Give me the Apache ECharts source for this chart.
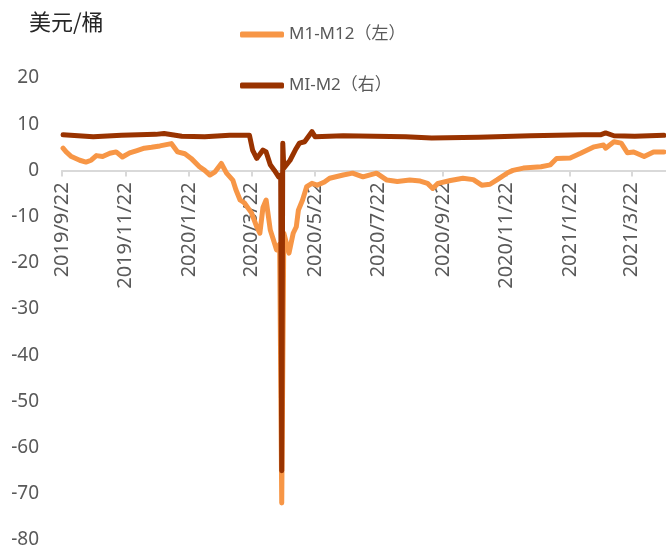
<!DOCTYPE html>
<html>
<head>
<meta charset="utf-8">
<script src="https://cdn.jsdelivr.net/npm/echarts@6/dist/echarts.min.js"></script>
<style>html,body{margin:0;padding:0;background:#fff}#c{width:666px;height:553px}</style>
</head>
<body>
<div id="c"></div>
<script>
const tickDates = ['2019-09-22','2019-11-22','2020-01-22','2020-03-22','2020-05-22','2020-07-22','2020-09-22','2020-11-22','2021-01-22','2021-03-22'];

const m112Dates = ['2019-09-23','2019-09-26','2019-10-01','2019-10-09','2019-10-15','2019-10-20','2019-10-25','2019-10-31','2019-11-07','2019-11-13','2019-11-19','2019-11-26','2019-12-03','2019-12-10','2019-12-17','2019-12-25','2020-01-05','2020-01-11','2020-01-18','2020-01-24','2020-02-01','2020-02-06','2020-02-11','2020-02-16','2020-02-22','2020-02-27','2020-03-04','2020-03-07','2020-03-11','2020-03-15','2020-03-22','2020-03-27','2020-03-30','2020-04-02','2020-04-05','2020-04-09','2020-04-12','2020-04-15','2020-04-18','2020-04-20','2020-04-22','2020-04-27','2020-05-01','2020-05-04','2020-05-06','2020-05-10','2020-05-14','2020-05-19','2020-05-24','2020-05-31','2020-06-05','2020-06-18','2020-06-27','2020-07-07','2020-07-20','2020-07-30','2020-08-09','2020-08-21','2020-08-31','2020-09-07','2020-09-12','2020-09-17','2020-09-29','2020-10-11','2020-10-21','2020-10-29','2020-11-06','2020-11-13','2020-11-23','2020-11-28','2020-12-08','2020-12-25','2021-01-03','2021-01-09','2021-01-22','2021-02-01','2021-02-14','2021-02-23','2021-02-25','2021-03-05','2021-03-12','2021-03-18','2021-03-24','2021-04-03','2021-04-12','2021-04-22'];
const m112Values = [4.8,4.0,3.0,2.2,1.8,2.2,3.2,3.0,3.7,4.0,2.9,3.8,4.3,4.8,5.0,5.3,5.8,4.0,3.6,2.6,0.8,0,-1.0,-0.3,1.5,-0.6,-2.1,-4.2,-6.4,-7.0,-9.2,-12.2,-13.6,-8.0,-6.4,-12.9,-15.0,-17.2,-16.0,-72.0,-13.6,-17.9,-13.6,-12.2,-8.6,-6.4,-3.5,-2.8,-3.2,-2.5,-1.7,-1.0,-0.6,-1.4,-0.6,-2.1,-2.4,-2.1,-2.3,-2.8,-3.9,-2.8,-2.2,-1.7,-2.0,-3.2,-3.0,-2.0,-0.5,0,0.5,0.8,1.2,2.6,2.7,3.7,5.1,5.5,4.8,6.2,5.9,3.8,4.0,3.0,4.0,4.0];

const m12Dates = ['2019-09-23','2019-10-22','2019-11-18','2019-12-21','2019-12-29','2020-01-15','2020-02-06','2020-03-01','2020-03-20','2020-03-23','2020-03-27','2020-04-02','2020-04-05','2020-04-09','2020-04-13','2020-04-17','2020-04-19','2020-04-20','2020-04-21','2020-04-22','2020-04-28','2020-05-03','2020-05-07','2020-05-12','2020-05-19','2020-05-22','2020-06-18','2020-08-17','2020-09-11','2020-10-26','2020-12-15','2021-02-03','2021-02-20','2021-02-25','2021-03-05','2021-03-25','2021-04-22'];
const m12Values = [7.7,7.3,7.6,7.8,8.0,7.4,7.3,7.6,7.6,4.4,2.6,4.4,4.0,1.2,0,-1.4,-1.0,-65.0,5.9,0.5,2.2,4.4,5.9,6.2,8.4,7.3,7.5,7.3,7.0,7.2,7.5,7.7,7.7,8.1,7.5,7.4,7.6];

const seriesNames = ['M1-M12（左）', 'MI-M2（右）'];
const yMin = -80, yMax = 20, yStep = 10;

function ts(s) { const p = s.split('-').map(Number); return new Date(p[0], p[1] - 1, p[2]).getTime(); }
const zip = (d, v) => d.map((x, i) => [ts(x), v[i]]);
const tickTs = tickDates.map(ts);
const xMin = ts('2019-09-22'), xMax = ts('2021-04-24');

// layout: plot top/bottom in px, zero line derived from the value scale
const gTop = 78, gBottom = 13, H = 553;
const plotH = H - gTop - gBottom;
const zeroY = gTop + plotH * (yMax - 0) / (yMax - yMin);

const chart = echarts.init(document.getElementById('c'));
const font = "'Noto Sans', 'Noto Sans CJK SC', sans-serif";
chart.setOption({
  animation: false,
  title: { text: '美元/桶', left: 24, top: 6, textStyle: { fontFamily: "'Noto Sans CJK SC', sans-serif", fontSize: 22, fontWeight: 'normal', color: '#262626' } },
  legend: {
    orient: 'vertical', left: 240, top: 26, itemGap: 34, padding: 0,
    icon: 'roundRect', itemWidth: 44, itemHeight: 6,
    textStyle: { fontFamily: font, fontSize: 17, color: '#595959' },
    data: seriesNames
  },
  grid: [
    { left: 62, right: 0, top: gTop, bottom: gBottom, containLabel: false, outerBoundsMode: 'none' },
    { left: 62, right: 0, top: gTop, height: zeroY - gTop, containLabel: false, outerBoundsMode: 'none' }
  ],
  xAxis: [
    { gridIndex: 0, type: 'value', min: xMin, max: xMax, show: false, splitLine: { show: false } },
    { gridIndex: 1, type: 'value', min: xMin, max: xMax, position: 'bottom',
      axisLine: { show: true, onZero: false, lineStyle: { color: '#d9d9d9', width: 2 } },
      axisTick: { show: true, customValues: tickTs, length: 6, lineStyle: { color: '#d9d9d9', width: 2 } },
      splitLine: { show: false },
      axisLabel: {
        customValues: tickTs, rotate: 90, margin: 12, showMinLabel: true, showMaxLabel: true,
        fontFamily: font, fontSize: 20, color: '#595959',
        formatter: v => { const d = new Date(v); return d.getFullYear() + '/' + (d.getMonth() + 1) + '/' + d.getDate(); }
      }
    }
  ],
  yAxis: [
    { gridIndex: 0, type: 'value', min: yMin, max: yMax, interval: yStep,
      axisLine: { show: false, onZero: false }, axisTick: { show: false }, splitLine: { show: false },
      axisLabel: { margin: 23, fontFamily: font, fontSize: 19, color: '#595959' } },
    { gridIndex: 0, type: 'value', min: yMin, max: yMax, interval: yStep, show: false, axisLine: { onZero: false }, splitLine: { show: false } },
    { gridIndex: 1, type: 'value', min: 0, max: 1, show: false, axisLine: { onZero: false }, splitLine: { show: false } }
  ],
  series: [
    { name: seriesNames[0], type: 'line', xAxisIndex: 0, yAxisIndex: 0, showSymbol: false, symbol: 'none', z: 3,
      lineStyle: { color: '#F79646', width: 5, cap: 'round', join: 'round' }, itemStyle: { color: '#F79646' },
      data: zip(m112Dates, m112Values) },
    { name: seriesNames[1], type: 'line', xAxisIndex: 0, yAxisIndex: 1, showSymbol: false, symbol: 'none', z: 4,
      lineStyle: { color: '#993300', width: 5, cap: 'round', join: 'round' }, itemStyle: { color: '#993300' },
      data: zip(m12Dates, m12Values) }
  ]
});
</script>
</body>
</html>
